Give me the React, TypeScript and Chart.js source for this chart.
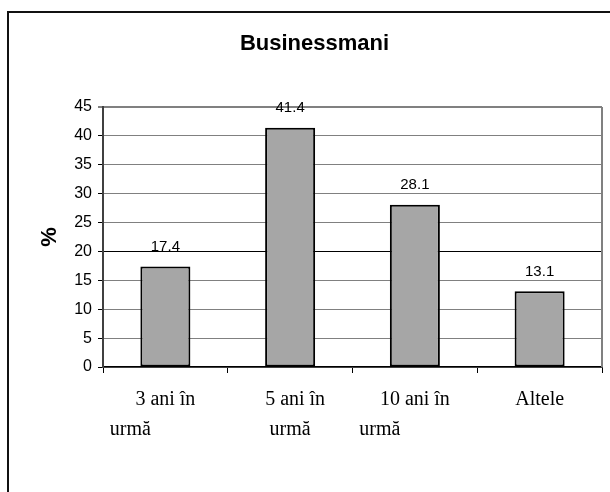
import React, { useEffect, useRef } from "react";
import { Chart, registerables } from "chart.js";

Chart.register(...registerables);

const chartTitle = "Businessmani";
const yAxisTitle = "%";
const categories = ["3 ani în urmă", "5 ani în urmă", "10 ani în urmă", "Altele"];
const values = [17.4, 41.4, 28.1, 13.1];
const yMin = 0;
const yMax = 45;
const yStep = 5;

// leading spaces on the first line, trailing spaces on the second line (mimics the original wrap)
const labelPads: number[][] = [[0, 14], [2, 0], [0, 14], [0, 0]];

function splitLabel(text: string, index: number): string[] {
  const parts = text.includes(" urmă") ? [text.replace(" urmă", ""), "urmă"] : [text];
  const pad = labelPads[index] || [0, 0];
  return parts.map((p, i) => (i === 0 ? " ".repeat(pad[0]) + p : p + " ".repeat(pad[1])));
}

const framePlugin = {
  id: "frame",
  beforeDatasetsDraw(chart: any) {
    const { ctx, chartArea } = chart;
    ctx.save();
    ctx.strokeStyle = "#808080";
    ctx.lineWidth = 2;
    ctx.beginPath();
    ctx.moveTo(chartArea.right, chartArea.top);
    ctx.lineTo(chartArea.right, chartArea.bottom);
    ctx.stroke();
    ctx.restore();
  },
};

const valueLabelPlugin = {
  id: "valueLabels",
  afterDatasetsDraw(chart: any) {
    const { ctx } = chart;
    const meta = chart.getDatasetMeta(0);
    ctx.save();
    ctx.font = "15px 'Liberation Sans', Arial, sans-serif";
    ctx.fillStyle = "#000";
    ctx.textAlign = "center";
    ctx.textBaseline = "middle";
    meta.data.forEach((bar: any, i: number) => {
      ctx.fillText(String(values[i]), bar.x, bar.y - 19.5);
    });
    ctx.restore();
  },
};

export default function App() {
  const canvasRef = useRef<HTMLCanvasElement | null>(null);

  useEffect(() => {
    if (!canvasRef.current) return;
    const chart = new Chart(canvasRef.current, {
      type: "bar",
      data: {
        labels: categories,
        datasets: [
          {
            data: values,
            backgroundColor: "#A6A6A6",
            borderColor: "#000000",
            borderWidth: 2,
            borderSkipped: false,
            categoryPercentage: 1,
            barPercentage: 0.401,
          },
        ],
      },
      options: {
        animation: false,
        responsive: false,
        devicePixelRatio: 1,
        layout: { padding: { left: 27, right: 8, top: 0, bottom: 0 } },
        plugins: {
          legend: { display: false },
          tooltip: { enabled: false },
          title: {
            display: true,
            text: chartTitle,
            color: "#000",
            font: { family: "'Liberation Sans', Arial, sans-serif", size: 22, weight: "bold", lineHeight: 1.2 },
            padding: { top: 30.8, bottom: 49.8 },
          },
        },
        scales: {
          x: {
            afterFit: (s: any) => {
              s.height = 125;
            },
            grid: {
              display: true,
              offset: true,
              drawOnChartArea: false,
              drawTicks: true,
              tickLength: 6,
              tickColor: "#000",
              tickWidth: 1,
            },
            border: { display: true, color: "#000", width: 1.5 },
            ticks: {
              color: "#000",
              padding: 12,
              maxRotation: 0,
              autoSkip: false,
              font: { family: "'Liberation Serif', 'Times New Roman', serif", size: 20, lineHeight: 1.5 },
              callback: (_v: any, index: number) => splitLabel(categories[index], index),
            },
          },
          y: {
            min: yMin,
            max: yMax,
            afterFit: (s: any) => {
              s.width = 76;
            },
            title: {
              display: true,
              text: yAxisTitle,
              color: "#000",
              font: { family: "'Liberation Sans', Arial, sans-serif", size: 22, weight: "bold", lineHeight: 1.2 },
              padding: { top: 9.8, bottom: 0 },
            },
            grid: {
              color: (c: any) => (c.tick && c.tick.value === 20 ? "#000" : "#808080"),
              lineWidth: (c: any) => (c.tick && c.tick.value === yMax ? 2 : 1),
              drawTicks: true,
              tickLength: 5,
              tickColor: "#000",
              tickWidth: 1,
            },
            border: { display: true, color: "#404040", width: 2 },
            ticks: {
              stepSize: yStep,
              color: "#000",
              padding: 6,
              font: { family: "'Liberation Sans', Arial, sans-serif", size: 16 },
            },
          },
        },
      },
      plugins: [framePlugin, valueLabelPlugin],
    });
    return () => chart.destroy();
  }, []);

  return (
    <div style={{ position: "absolute", left: 0, top: 0, width: 610, height: 492, background: "#fff", overflow: "hidden" }}>
      <canvas ref={canvasRef} width={610} height={492} style={{ display: "block" }} />
      <div
        style={{
          position: "absolute",
          left: 7,
          top: 11,
          width: 603,
          height: 481,
          boxSizing: "border-box",
          borderTop: "2px solid #111",
          borderLeft: "2px solid #111",
          pointerEvents: "none",
        }}
      />
    </div>
  );
}
